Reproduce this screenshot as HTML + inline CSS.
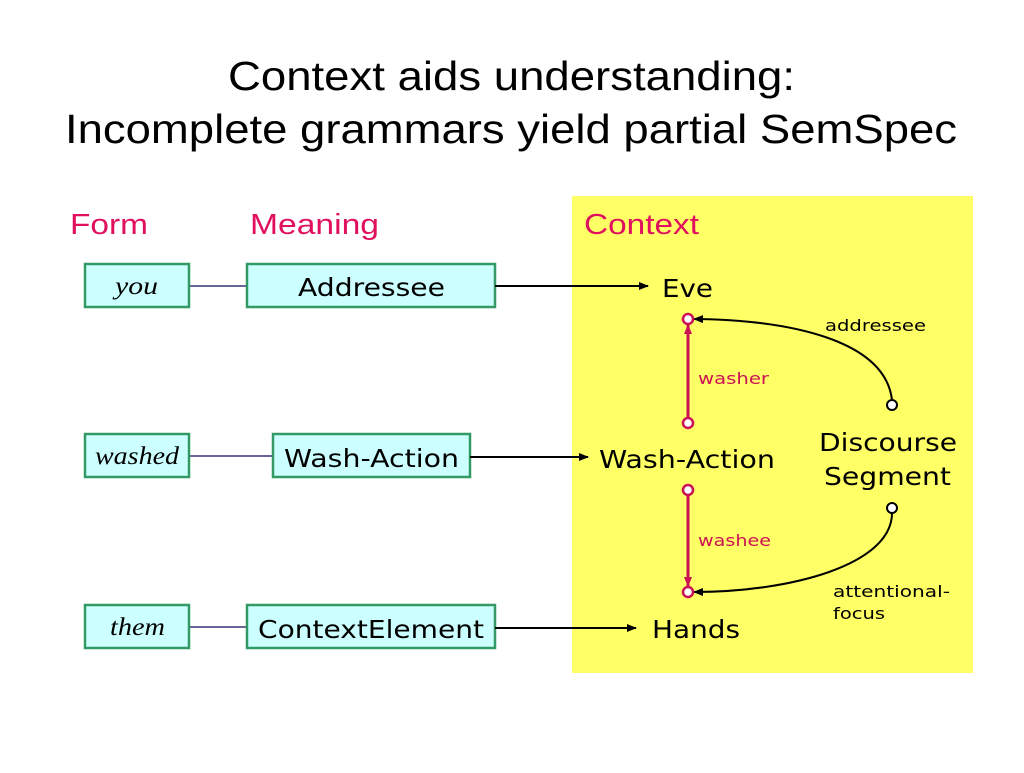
<!DOCTYPE html>
<html><head><style>body{margin:0;background:#fff}</style></head><body>
<svg width="1024" height="768" xmlns="http://www.w3.org/2000/svg" font-family="DejaVu Sans, Liberation Sans, sans-serif">
<defs>
<marker id="a" markerWidth="10" markerHeight="8" refX="9" refY="4" orient="auto" markerUnits="userSpaceOnUse"><path d="M0,0 L10,4 L0,8 z" fill="#000"/></marker>
<marker id="p" markerWidth="10" markerHeight="8" refX="9" refY="4" orient="auto" markerUnits="userSpaceOnUse"><path d="M0,0 L10,4 L0,8 z" fill="#cc1155"/></marker>
</defs>
<g font-family="Liberation Sans, sans-serif" font-size="41" lengthAdjust="spacingAndGlyphs">
<text x="228" y="90" textLength="567" lengthAdjust="spacingAndGlyphs">Context aids understanding:</text>
<text x="65" y="143" textLength="892" lengthAdjust="spacingAndGlyphs">Incomplete grammars yield partial SemSpec</text></g>
<rect x="572" y="196" width="401" height="477" fill="#ffff66"/>
<g font-family="Liberation Sans, sans-serif" font-size="29" fill="#e0105f">
<text x="70" y="234" textLength="78" lengthAdjust="spacingAndGlyphs">Form</text><text x="250" y="234" textLength="129" lengthAdjust="spacingAndGlyphs">Meaning</text><text x="584" y="234" textLength="115" lengthAdjust="spacingAndGlyphs">Context</text></g>
<g stroke="#666699" stroke-width="2"><line x1="189" y1="286" x2="247" y2="286"/><line x1="189" y1="456" x2="273" y2="456"/><line x1="189" y1="627" x2="247" y2="627"/></g>
<g fill="#ccffff" stroke="#339966" stroke-width="2.5">
<rect x="85" y="264" width="104" height="43"/><rect x="247" y="264" width="248" height="43"/>
<rect x="85" y="434" width="104" height="43"/><rect x="273" y="434" width="197" height="43"/>
<rect x="85" y="605" width="104" height="43"/><rect x="247" y="605" width="248" height="43"/></g>
<g font-family="Liberation Serif, serif" font-style="italic" font-size="25">
<text x="115" y="294" textLength="43" lengthAdjust="spacingAndGlyphs">you</text><text x="95" y="464" textLength="84" lengthAdjust="spacingAndGlyphs">washed</text><text x="110" y="635" textLength="55" lengthAdjust="spacingAndGlyphs">them</text></g>
<g font-size="25">
<text x="298" y="296" textLength="147" lengthAdjust="spacingAndGlyphs">Addressee</text><text x="284" y="467" textLength="175" lengthAdjust="spacingAndGlyphs">Wash-Action</text><text x="258" y="638" textLength="226" lengthAdjust="spacingAndGlyphs">ContextElement</text>
<text x="662" y="297" textLength="51" lengthAdjust="spacingAndGlyphs">Eve</text><text x="599" y="468" textLength="176" lengthAdjust="spacingAndGlyphs">Wash-Action</text><text x="652" y="638" textLength="88" lengthAdjust="spacingAndGlyphs">Hands</text>
<text x="819" y="451" textLength="138" lengthAdjust="spacingAndGlyphs">Discourse</text><text x="824" y="485" textLength="127" lengthAdjust="spacingAndGlyphs">Segment</text></g>
<g stroke="#000" stroke-width="2" fill="none" marker-end="url(#a)">
<line x1="495" y1="286" x2="648" y2="286"/><line x1="470" y1="457" x2="588" y2="457"/><line x1="495" y1="628" x2="636" y2="628"/>
<path d="M892,400 C885,340 790,320 694,319"/><path d="M892,513 C892,565 790,592 694,592"/></g>
<g stroke="#cc1155" stroke-width="3" marker-end="url(#p)">
<line x1="688" y1="418" x2="688" y2="325"/><line x1="688" y1="495" x2="688" y2="586"/></g>
<g fill="#fff" stroke="#cc1155" stroke-width="2.5">
<circle cx="688" cy="319" r="5"/><circle cx="688" cy="423" r="5"/><circle cx="688" cy="490" r="5"/><circle cx="688" cy="592" r="5"/></g>
<g fill="#fff" stroke="#000" stroke-width="2"><circle cx="892" cy="405" r="5"/><circle cx="892" cy="508" r="5"/></g>
<g font-size="16" fill="#cc1155"><text x="698" y="384" textLength="71" lengthAdjust="spacingAndGlyphs">washer</text><text x="698" y="546" textLength="73" lengthAdjust="spacingAndGlyphs">washee</text></g>
<g font-size="16"><text x="825" y="331" textLength="101" lengthAdjust="spacingAndGlyphs">addressee</text><text x="833" y="597" textLength="117" lengthAdjust="spacingAndGlyphs">attentional-</text><text x="833" y="619" textLength="52" lengthAdjust="spacingAndGlyphs">focus</text></g>
</svg>
</body></html>
